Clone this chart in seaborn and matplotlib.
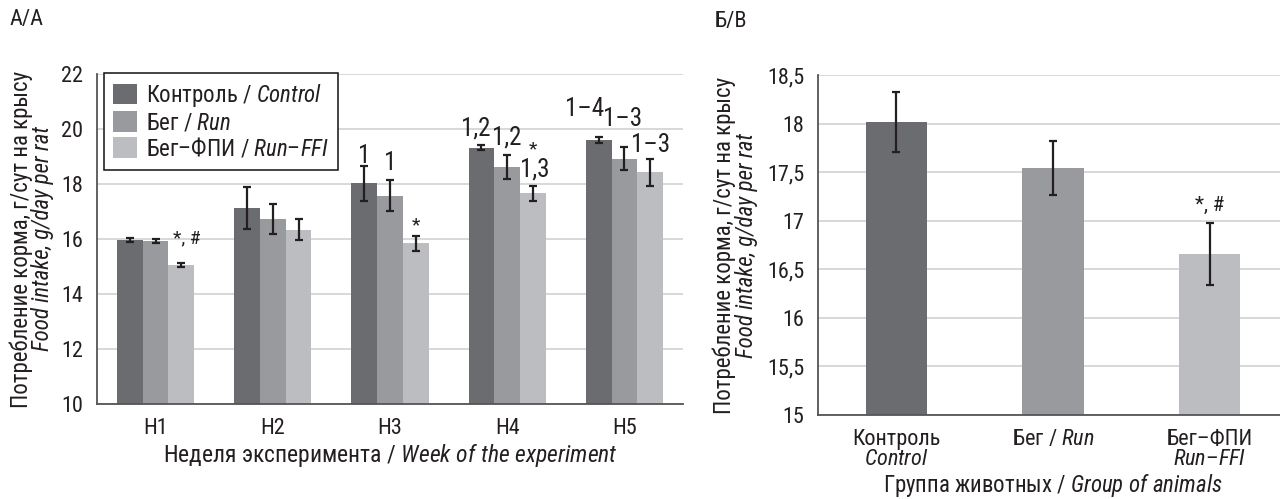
import matplotlib
matplotlib.use("Agg")
import matplotlib.pyplot as plt
import seaborn as sns
import pandas as pd
from matplotlib import font_manager as fm
from matplotlib.ticker import FixedLocator

# ---------------- data ----------------
weeks = ["Н1", "Н2", "Н3", "Н4", "Н5"]
group_names = ["Контроль / $\\it{Control}$", "Бег / $\\it{Run}$", "Бег–ФПИ / $\\it{Run–FFI}$"]
control = [15.96, 17.13, 18.02, 19.32, 19.60]
run = [15.93, 16.73, 17.58, 18.63, 18.92]
run_ffi = [15.05, 16.33, 15.84, 17.66, 18.42]
control_err = [0.06, 0.75, 0.62, 0.10, 0.12]
run_err = [0.06, 0.56, 0.56, 0.43, 0.41]
run_ffi_err = [0.07, 0.38, 0.26, 0.27, 0.49]

# (week index, group index, label, y value, horizontal nudge in points)
marks_a = [
    (0, 2, "*, #", 15.85, 4),
    (2, 0, "1", 18.76, 0),
    (2, 1, "1", 18.50, 0),
    (2, 2, "*", 16.33, 0),
    (3, 0, "1,2", 19.78, -4),
    (3, 1, "1,2", 19.42, 0),
    (3, 2, "*", 19.09, 0),
    (3, 2, "1,3", 18.29, 1),
    (4, 0, "1–4", 20.47, -10),
    (4, 1, "1–3", 20.10, -1),
    (4, 2, "1–3", 19.16, 0),
]

groups_b = ["Контроль\n$\\it{Control}$", "Бег / $\\it{Run}$", "Бег–ФПИ\n$\\it{Run–FFI}$"]
means_b = [18.02, 17.54, 16.66]
err_b = [0.31, 0.28, 0.32]
marks_b = [(2, "*, #", 17.10)]

yticks_a = [10, 12, 14, 16, 18, 20, 22]
yticks_b = [15, 15.5, 16, 16.5, 17, 17.5, 18, 18.5]
ytick_labels_b = ["15", "15,5", "16", "16,5", "17", "17,5", "18", "18,5"]

colors = ["#6b6c70", "#999a9e", "#bcbdc1"]

# ---------------- style ----------------
sns.set_style("white")
avail = {f.name for f in fm.fontManager.ttflist}
FONT = "Liberation Sans"
for cand in ["Roboto Condensed", "Fira Sans Condensed", "IBM Plex Sans Condensed",
             "Archivo Narrow", "Liberation Sans Narrow"]:
    if cand in avail:
        FONT = cand
        break
plt.rcParams["font.family"] = [FONT, "DejaVu Sans"]
plt.rcParams["mathtext.fontset"] = "custom"
plt.rcParams["mathtext.rm"] = FONT
plt.rcParams["mathtext.it"] = FONT + ":italic"
plt.rcParams["mathtext.bf"] = FONT + ":bold"
TXT = "#231f20"
SPINE = "#555555"
GRID = "#d6d6d6"

W, H = 1280, 499
fig = plt.figure(figsize=(W / 100, H / 100), dpi=100)

def px_axes(x0, y_top, x1, y_bot):
    return fig.add_axes([x0 / W, 1 - y_bot / H, (x1 - x0) / W, (y_bot - y_top) / H])

axA = px_axes(97, 74, 683, 404)
axB = px_axes(818, 75, 1288, 415)

# ---------------- panel A ----------------
df = pd.DataFrame({
    "week": weeks * 3,
    "group": sum([[g] * len(weeks) for g in group_names], []),
    "value": control + run + run_ffi,
})
sns.barplot(data=df, x="week", y="value", hue="group", palette=colors,
            width=0.66, gap=0, errorbar=None, ax=axA, edgecolor="none",
            linewidth=0, saturation=1)
errs_a = [control_err, run_err, run_ffi_err]
for cont, errs in zip(axA.containers, errs_a):
    for bar, e in zip(cont, errs):
        xc = bar.get_x() + bar.get_width() / 2
        axA.errorbar(xc, bar.get_height(), yerr=e, fmt="none", ecolor=TXT,
                     elinewidth=1.6, capsize=2.6, capthick=1.6, zorder=5)
for wi, gi, lab, yv, dx in marks_a:
    bar = axA.containers[gi][wi]
    xc = bar.get_x() + bar.get_width() / 2
    small = lab in ("*", "*, #")
    axA.annotate(lab, xy=(xc, yv), xytext=(dx, 0), textcoords="offset points",
                 ha="center", va="baseline", fontsize=14 if small else 18, color=TXT)

axA.set_ylim(10, 22)
axA.set_xlim(-0.5, 4.5)
axA.yaxis.set_major_locator(FixedLocator(yticks_a))
axA.set_yticklabels([str(v) for v in yticks_a])
axA.xaxis.set_minor_locator(FixedLocator([-0.5, 0.5, 1.5, 2.5, 3.5, 4.5]))
axA.tick_params(axis="x", which="major", length=0, pad=10, labelsize=16, labelcolor=TXT)
axA.tick_params(axis="x", which="minor", length=7, width=1.3, color=SPINE, direction="out")
axA.tick_params(axis="y", length=7, width=1.3, color=SPINE, direction="out",
                labelsize=16, labelcolor=TXT, pad=3)
axA.set_xlabel("Неделя эксперимента / $\\it{Week\\ of\\ the\\ experiment}$",
               fontsize=17, color=TXT, labelpad=2)
axA.set_ylabel("")
axA.grid(axis="y", color=GRID, linewidth=1.3)
axA.set_axisbelow(True)
for s in ("top", "right"):
    axA.spines[s].set_visible(False)
for s in ("left", "bottom"):
    axA.spines[s].set_color(SPINE)
    axA.spines[s].set_linewidth(1.3)

leg = axA.legend(loc="upper left", bbox_to_anchor=(0.012, 1.004), fontsize=16.5,
                 frameon=True, fancybox=False, framealpha=1, edgecolor="#111111",
                 handlelength=1.05, handleheight=1.0, handletextpad=0.4,
                 labelspacing=0.1, borderpad=0.4, borderaxespad=0)
leg.get_frame().set_linewidth(1.1)
for t in leg.get_texts():
    t.set_color(TXT)

# ---------------- panel B ----------------
dfb = pd.DataFrame({"group": groups_b, "value": means_b})
sns.barplot(data=dfb, x="group", y="value", hue="group", palette=colors,
            width=0.39, errorbar=None, ax=axB, edgecolor="none", linewidth=0,
            saturation=1, legend=False)
bars_b = [c[0] for c in axB.containers]
for bar, e in zip(bars_b, err_b):
    xc = bar.get_x() + bar.get_width() / 2
    axB.errorbar(xc, bar.get_height(), yerr=e, fmt="none", ecolor=TXT,
                 elinewidth=1.6, capsize=2.6, capthick=1.6, zorder=5)
for gi, lab, yv in marks_b:
    bar = bars_b[gi]
    axB.text(bar.get_x() + bar.get_width() / 2, yv, lab, ha="center", va="baseline",
             fontsize=15, color=TXT)

axB.set_ylim(15, 18.5)
axB.set_xlim(-0.5, 2.5)
axB.yaxis.set_major_locator(FixedLocator(yticks_b))
axB.set_yticklabels(ytick_labels_b)
axB.xaxis.set_minor_locator(FixedLocator([-0.5, 0.5, 1.5]))
axB.tick_params(axis="x", which="major", length=0, pad=10, labelsize=16, labelcolor=TXT)
axB.tick_params(axis="x", which="minor", length=7, width=1.3, color=SPINE, direction="out")
axB.tick_params(axis="y", length=7, width=1.3, color=SPINE, direction="out",
                labelsize=16, labelcolor=TXT, pad=3)
axB.set_xlabel("Группа животных / $\\it{Group\\ of\\ animals}$", fontsize=16.5,
               color=TXT, labelpad=1.5)
axB.set_ylabel("")
axB.grid(axis="y", color=GRID, linewidth=1.3)
axB.set_axisbelow(True)
for s in ("top", "right"):
    axB.spines[s].set_visible(False)
for s in ("left", "bottom"):
    axB.spines[s].set_color(SPINE)
    axB.spines[s].set_linewidth(1.3)
for lbl in axB.get_xticklabels():
    lbl.set_linespacing(0.95)

# ---------------- figure texts ----------------
def ftext(x, y, s, **kw):
    fig.text(x / W, 1 - y / H, s, color=TXT, **kw)

ftext(9, 20, "А/A", fontsize=16, ha="left", va="center")
ftext(714, 22, "Б/B", fontsize=16, ha="left", va="center")
ylab1 = "Потребление корма, г/сут на крысу"
ylab2 = "Food intake, g/day per rat"
ftext(21, 239, ylab1, fontsize=16.5, rotation=90, ha="center", va="center")
ftext(43, 239, ylab2, fontsize=16.5, rotation=90, ha="center", va="center", style="italic")
ftext(724, 245, ylab1, fontsize=16.5, rotation=90, ha="center", va="center")
ftext(747, 245, ylab2, fontsize=16.5, rotation=90, ha="center", va="center", style="italic")

fig.savefig("out.png", dpi=100)
